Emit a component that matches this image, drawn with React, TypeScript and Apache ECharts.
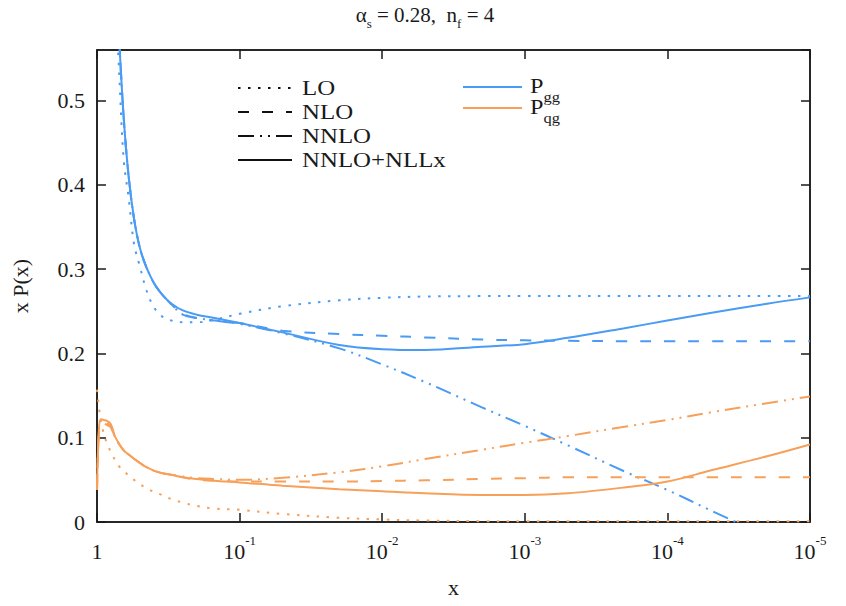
import React, { useEffect, useRef } from 'react';
import * as echarts from 'echarts';

// x grid (momentum fraction), shared by all curves
const X = [1, 0.97, 0.94, 0.9, 0.85, 0.8, 0.75, 0.7, 0.65, 0.6, 0.55, 0.5, 0.45, 0.4, 0.35, 0.3, 0.25, 0.2, 0.15, 0.1,
  0.05, 0.02, 0.01, 5e-3, 2e-3, 1e-3, 5e-4, 2e-4, 1e-4, 5e-5, 2e-5, 1e-5];

// P_gg (blue)
const GG_LO = [null, null, null, null, null, null, 0.64, 0.535, 0.43, 0.385, 0.33, 0.303, 0.275, 0.255, 0.244, 0.239, 0.237, 0.237, 0.240, 0.247,
  0.256, 0.263, 0.266, 0.2675, 0.268, 0.268, 0.268, 0.268, 0.268, 0.268, 0.268, 0.268];
const GG_NLO = [null, null, null, null, null, null, 0.68, 0.575, 0.48, 0.41, 0.36, 0.325, 0.302, 0.284, 0.270, 0.258, 0.247, 0.242, 0.239, 0.236,
  0.227, 0.223, 0.221, 0.219, 0.2165, 0.2155, 0.215, 0.2145, 0.2145, 0.2145, 0.2145, 0.2145];
const GG_NNLO = [null, null, null, null, null, null, 0.68, 0.575, 0.48, 0.41, 0.36, 0.325, 0.302, 0.284, 0.270, 0.258, 0.246, 0.242, 0.239, 0.235,
  0.224, 0.206, 0.187, 0.166, 0.136, 0.114, 0.091, 0.060, 0.038, 0.014, -0.017, null];
const GG_NNLL = [null, null, null, null, null, null, 0.68, 0.575, 0.48, 0.41, 0.36, 0.325, 0.302, 0.284, 0.270, 0.259, 0.251, 0.246, 0.242, 0.236,
  0.225, 0.210, 0.205, 0.204, 0.208, 0.211, 0.2185, 0.230, 0.239, 0.248, 0.259, 0.2665];

// P_qg (orange)
const QG_LO = [0.157, 0.137, 0.12, 0.106, 0.093, 0.083, 0.074, 0.066, 0.061, 0.055, 0.050, 0.045, 0.040, 0.036, 0.032, 0.027, 0.023, 0.019, 0.016, 0.0145,
  0.0095, 0.005, 0.003, 0.0018, 0.001, 0.0008, 0.0008, 0.0008, 0.0008, 0.0008, 0.0008, 0.0008];
const QG_NLO = [0.038, 0.105, 0.118, 0.117, 0.115, 0.112, 0.100, 0.092, 0.085, 0.080, 0.075, 0.070, 0.065, 0.061, 0.058, 0.056, 0.053, 0.050, 0.049, 0.048,
  0.048, 0.048, 0.0487, 0.0495, 0.051, 0.052, 0.053, 0.053, 0.053, 0.053, 0.053, 0.053];
const QG_NNLO = [0.038, 0.108, 0.12, 0.119, 0.117, 0.114, 0.101, 0.093, 0.085, 0.080, 0.075, 0.070, 0.065, 0.061, 0.058, 0.056, 0.054, 0.052, 0.051, 0.050,
  0.0525, 0.059, 0.066, 0.0747, 0.0857, 0.094, 0.102, 0.113, 0.121, 0.130, 0.141, 0.149];
const QG_NNLL = [0.038, 0.11, 0.122, 0.121, 0.120, 0.116, 0.102, 0.093, 0.085, 0.080, 0.075, 0.070, 0.065, 0.061, 0.058, 0.056, 0.053, 0.051, 0.049, 0.047,
  0.043, 0.039, 0.0365, 0.034, 0.032, 0.032, 0.034, 0.041, 0.048, 0.061, 0.078, 0.092];

const Y_TICKS = [0, 0.1, 0.2, 0.3, 0.4, 0.5];

const BLUE = '#4a9bf3';
const ORANGE = '#f7a05a';
const FONT = 'Liberation Serif';
const INK = '#1a1a1a';

const DOTTED = [2.5, 7.5];
const DASHED = [11, 13];
const DASHDOT = [16, 6, 2, 6, 2, 6];

function pairs(ys: (number | null)[]) {
  return X.map((x, i) => [x, ys[i] === null ? null : ys[i]]);
}

function line(name: string, ys: (number | null)[], color: string, type: any) {
  return {
    name,
    type: 'line',
    data: pairs(ys),
    showSymbol: false,
    symbol: 'none',
    smooth: 0.35,
    clip: true,
    silent: true,
    lineStyle: { color, width: 2, type, cap: 'butt' },
  };
}

export default function App() {
  const ref = useRef<HTMLDivElement>(null);
  useEffect(() => {
    const chart = echarts.init(ref.current!, null, { renderer: 'svg' });
    const legendRows = [
      { label: 'LO', dash: DOTTED, y: 88 },
      { label: 'NLO', dash: DASHED, y: 112 },
      { label: 'NNLO', dash: DASHDOT, y: 136 },
      { label: 'NNLO+NLLx', dash: 'solid', y: 160 },
    ];
    const graphic: any[] = [];
    legendRows.forEach((r) => {
      graphic.push({
        type: 'line',
        shape: { x1: 238, y1: r.y, x2: 292, y2: r.y },
        style: { stroke: '#111', lineWidth: 2, lineDash: r.dash === 'solid' ? null : r.dash },
      });
      graphic.push({
        type: 'text',
        x: 302,
        y: r.y,
        scaleX: 1.13,
        style: { text: r.label, font: `22px "${FONT}"`, fill: INK, verticalAlign: 'middle', align: 'left' },
      });
    });
    const colorRows = [
      { sub: 'gg', color: BLUE, y: 87 },
      { sub: 'qg', color: ORANGE, y: 108 },
    ];
    colorRows.forEach((r) => {
      graphic.push({
        type: 'line',
        shape: { x1: 463, y1: r.y, x2: 522, y2: r.y },
        style: { stroke: r.color, lineWidth: 2 },
      });
      graphic.push({
        type: 'text',
        x: 530,
        y: r.y + 2,
        scaleX: 1.1,
        style: {
          text: `{p|P}{s|${r.sub}}`,
          fill: INK,
          verticalAlign: 'middle',
          align: 'left',
          rich: {
            p: { fontFamily: FONT, fontSize: 22, lineHeight: 30, verticalAlign: 'top', fill: INK },
            s: { fontFamily: FONT, fontSize: 15, lineHeight: 15, verticalAlign: 'bottom', fill: INK },
          },
        },
      });
    });
    graphic.push({
      type: 'text',
      x: 425,
      y: 17,
      style: {
        text: '{a|\u03b1}{s|s}{a| = 0.28,  n}{s|f}{a| = 4}',
        fill: INK,
        align: 'center',
        verticalAlign: 'middle',
        rich: {
          a: { fontFamily: FONT, fontSize: 21, lineHeight: 26, verticalAlign: 'top', fill: INK },
          s: { fontFamily: FONT, fontSize: 13, lineHeight: 13, verticalAlign: 'bottom', fill: INK },
        },
      },
    });

    const axisLine = { show: true, onZero: false, lineStyle: { color: INK, width: 1.5 } };
    const axisTick = { show: true, inside: true, length: 9, lineStyle: { color: INK, width: 1.5 } };

    chart.setOption({
      animation: false,
      backgroundColor: '#ffffff',
      grid: { left: 97, right: 36, top: 50, bottom: 84, show: true, borderColor: INK, borderWidth: 1.5, containLabel: false },
      graphic,
      xAxis: [
        {
          type: 'log',
          logBase: 10,
          min: 1e-5,
          max: 1,
          inverse: true,
          splitNumber: 5,
          position: 'bottom',
          name: 'x',
          nameLocation: 'middle',
          nameGap: 54,
          nameTextStyle: { fontFamily: FONT, fontSize: 22, color: INK },
          axisLine,
          axisTick,
          minorTick: { show: false },
          splitLine: { show: false },
          axisLabel: {
            margin: 12,
            formatter: (v: number) => {
              const e = Math.round(Math.log10(v));
              return e === 0 ? '{b|1}' : `{b|10}{s|${e}}`;
            },
            rich: {
              b: { fontFamily: FONT, fontSize: 22, lineHeight: 28, verticalAlign: 'bottom', color: INK },
              s: { fontFamily: FONT, fontSize: 13, lineHeight: 13, verticalAlign: 'top', color: INK },
            },
          },
        },
        {
          type: 'log',
          logBase: 10,
          min: 1e-5,
          max: 1,
          inverse: true,
          splitNumber: 5,
          position: 'top',
          axisLine,
          axisTick,
          axisLabel: { show: false },
          splitLine: { show: false },
        },
      ],
      yAxis: [
        {
          type: 'value',
          min: 0,
          max: 0.56,
          interval: 0.1,
          position: 'left',
          name: 'x P(x)',
          nameLocation: 'middle',
          nameGap: 66,
          nameRotate: 90,
          nameTextStyle: { fontFamily: FONT, fontSize: 22, color: INK },
          axisLine,
          axisTick,
          splitLine: { show: false },
          axisLabel: {
            margin: 12,
            fontFamily: FONT,
            fontSize: 22,
            color: INK,
            showMaxLabel: false,
            formatter: (v: number) => {
              const t = Y_TICKS.find((k) => Math.abs(k - v) < 1e-9);
              return t === undefined ? '' : String(t);
            },
          },
        },
        {
          type: 'value',
          min: 0,
          max: 0.56,
          interval: 0.1,
          position: 'right',
          axisLine,
          axisTick,
          axisLabel: { show: false },
          splitLine: { show: false },
        },
      ],
      series: [
        line('Pgg LO', GG_LO, BLUE, DOTTED),
        line('Pgg NLO', GG_NLO, BLUE, DASHED),
        line('Pgg NNLO', GG_NNLO, BLUE, DASHDOT),
        line('Pgg NNLO+NLLx', GG_NNLL, BLUE, 'solid'),
        line('Pqg LO', QG_LO, ORANGE, DOTTED),
        line('Pqg NLO', QG_NLO, ORANGE, DASHED),
        line('Pqg NNLO', QG_NNLO, ORANGE, DASHDOT),
        line('Pqg NNLO+NLLx', QG_NNLL, ORANGE, 'solid'),
      ],
    });
    return () => chart.dispose();
  }, []);
  return <div ref={ref} style={{ width: 846, height: 606, position: 'absolute', left: 0, top: 0 }} />;
}
